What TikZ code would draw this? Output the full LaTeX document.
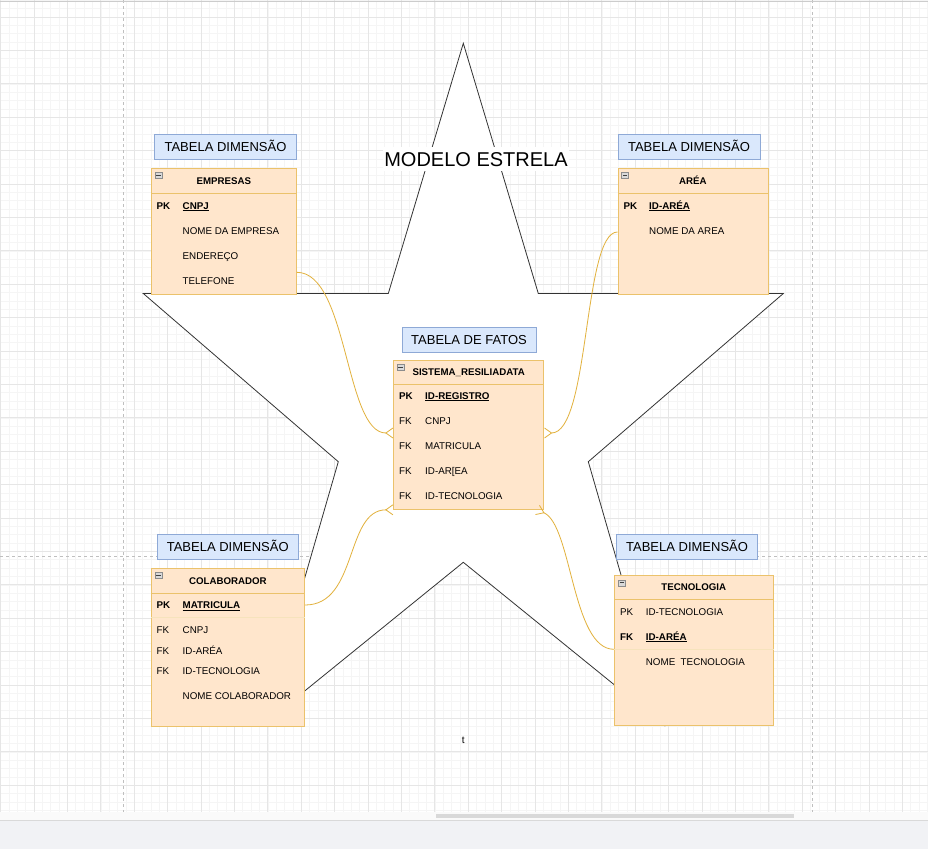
\documentclass[tikz,border=0pt]{standalone}
\usepackage{fontspec}
\setmainfont{Liberation Sans}
\usetikzlibrary{arrows.meta}
\definecolor{laranjaFundo}{HTML}{FFE6CC}
\definecolor{laranjaBorda}{HTML}{EBC26B}
\definecolor{azulFundo}{HTML}{DAE8FC}
\definecolor{azulBorda}{HTML}{8EA9D6}
\definecolor{ligacao}{HTML}{E2B13C}
\definecolor{gradeFina}{HTML}{F5F5F5}
\definecolor{gradeGrossa}{HTML}{E6E6E6}
\definecolor{rodape}{HTML}{F1F2F5}

\begin{document}
\begin{tikzpicture}[x=1pt,y=-1pt,
    rotulo/.style={draw=azulBorda, fill=azulFundo, line width=1pt, anchor=north west, inner sep=0pt, text height=9.3pt, text depth=0pt, font=\fontsize{13}{15}\selectfont},
    cabeca/.style={draw=laranjaBorda, fill=laranjaFundo, line width=0.8pt, anchor=north west, inner sep=0pt, text height=7pt, text depth=0pt, font=\bfseries\fontsize{9.7}{11}\selectfont},
    corpo/.style={draw=laranjaBorda, fill=laranjaFundo, line width=0.8pt, anchor=north west, inner sep=0pt},
    campo/.style={anchor=west, inner sep=0pt, text height=7pt, text depth=0pt, font=\fontsize{9.8}{11}\selectfont},
    chave/.style={campo, font=\bfseries\fontsize{9.8}{11}\selectfont},
    icone/.style={draw=black!45, fill=black!15, line width=0.5pt, minimum width=7pt, minimum height=6pt, inner sep=0pt,
        path picture={\draw[line width=0.9pt, black!75] ([xshift=1.3pt]path picture bounding box.west) -- ([xshift=-1.3pt]path picture bounding box.east);}},
    liga/.style={draw=ligacao, line width=0.8pt, -{Straight Barb[reversed, length=7pt, width=10pt]}},
    estrela/.style={draw=black!80, fill=white, line width=0.8pt},
    quebra/.style={draw=black!25, line width=0.7pt, dash pattern=on 3pt off 3pt}]

    \useasboundingbox (0,0) rectangle (928,849);
    \fill[white] (0,0) rectangle (928,812);

    % grade de fundo
    \foreach \i in {0,...,111} {
        \draw[gradeFina, line width=0.6pt] ({0.6+8.35*\i},0) -- ({0.6+8.35*\i},812);
    }
    \foreach \i in {0,...,97} {
        \draw[gradeFina, line width=0.6pt] (0,{0.3+8.35*\i}) -- (928,{0.3+8.35*\i});
    }
    \foreach \i in {-1,...,26} {
        \draw[gradeGrossa, line width=0.7pt] ({34+33.4*\i},0) -- ({34+33.4*\i},812);
    }
    \foreach \i in {0,...,23} {
        \draw[gradeGrossa, line width=0.7pt] (0,{17+33.4*\i}) -- (928,{17+33.4*\i});
    }
    \draw[quebra] (123,0) -- (123,812);
    \draw[quebra] (812,0) -- (812,812);
    \draw[quebra] (0,556) -- (928,556);
    \draw[black!20, line width=1pt] (0,1.5) -- (928,1.5);

    % rodape
    \fill[black!2] (0,812) rectangle (928,820);
    \fill[rodape] (0,820) rectangle (928,849);
    \draw[black!15, line width=1pt] (0,820) -- (928,820);
    \fill[black!15] (436,814) rectangle (794,817.5);

    % estrela
    \draw[estrela] (463.3,43.3) -- (538.3,293.5) -- (783.3,293.5) -- (588.3,461.7) -- (664.5,725.5)
        -- (463.3,562.3) -- (262.1,725.5) -- (338.3,461.7) -- (143.3,293.5) -- (388.3,293.5) -- cycle;
    \node[fill=white, inner xsep=1pt, inner ysep=5pt, text height=14.3pt, text depth=0pt, font=\fontsize{20}{24}\selectfont] (titulo) at (476,159) {MODELO ESTRELA};

    % EMPRESAS
    \node[rotulo, minimum width=142pt, minimum height=25pt] (rotemp) at (154,134) {TABELA DIMENSÃO};
    \node[corpo, minimum width=145pt, minimum height=101pt] (empcorpo) at (151,193) {};
    \node[cabeca, minimum width=145pt, minimum height=25pt] (empcab) at (151,168) {EMPRESAS};
    \node[icone] (empmin) at (158.5,175.5) {};
    \node[chave] (emppk) at (156.5,205.5) {PK};
    \node[chave] (empcnpj) at (182.5,205.5) {\underline{CNPJ}};
    \node[campo] (empnome) at (182.5,230.5) {NOME DA EMPRESA};
    \node[campo] (empend) at (182.5,255.5) {ENDEREÇO};
    \node[campo] (emptel) at (182.5,280.5) {TELEFONE};

    % AREA
    \node[rotulo, minimum width=142pt, minimum height=25pt] (rotarea) at (617.5,134) {TABELA DIMENSÃO};
    \node[corpo, minimum width=150pt, minimum height=101pt] (areacorpo) at (617.5,193) {};
    \node[cabeca, minimum width=150pt, minimum height=25pt] (areacab) at (617.5,168) {ARÉA};
    \node[icone] (areamin) at (625,175.5) {};
    \node[chave] (areapk) at (623.5,205.5) {PK};
    \node[chave] (areaid) at (649,205.5) {\underline{ID-ARÉA}};
    \node[campo] (areanome) at (649,230.5) {NOME DA AREA};

    % SISTEMA_RESILIADATA
    \node[rotulo, minimum width=134pt, minimum height=25pt] (rotfato) at (401.5,326.5) {TABELA DE FATOS};
    \node[corpo, minimum width=150pt, minimum height=125pt] (fatocorpo) at (393.3,384) {};
    \node[cabeca, minimum width=150pt, minimum height=24pt] (fatocab) at (393.3,360) {SISTEMA\_RESILIADATA};
    \node[icone] (fatomin) at (400.5,367.5) {};
    \node[chave] (fatopk) at (399,395.5) {PK};
    \node[chave] (fatoreg) at (425,395.5) {\underline{ID-REGISTRO}};
    \node[campo] (fatofk1) at (399,420.5) {FK};
    \node[campo] (fatocnpj) at (425,420.5) {CNPJ};
    \node[campo] (fatofk2) at (399,445.5) {FK};
    \node[campo] (fatomat) at (425,445.5) {MATRICULA};
    \node[campo] (fatofk3) at (399,470.5) {FK};
    \node[campo] (fatoarea) at (425,470.5) {ID-AR[EA};
    \node[campo] (fatofk4) at (399,495.5) {FK};
    \node[campo] (fatotec) at (425,495.5) {ID-TECNOLOGIA};

    % COLABORADOR
    \node[rotulo, minimum width=141pt, minimum height=25pt] (rotcolab) at (156.7,534.3) {TABELA DIMENSÃO};
    \node[corpo, minimum width=153.5pt, minimum height=133pt] (colabcorpo) at (150.8,592.7) {};
    \node[cabeca, minimum width=153.5pt, minimum height=24.4pt] (colabcab) at (150.8,568.3) {COLABORADOR};
    \node[icone] (colabmin) at (158.5,575.5) {};
    \draw[laranjaBorda!45, line width=0.6pt] (colabcorpo.west |- 0,617) -- (colabcorpo.east |- 0,617);
    \node[chave] (colabpk) at (156.5,605) {PK};
    \node[chave] (colabmat) at (182.5,605) {\underline{MATRICULA}};
    \node[campo] (colabfk1) at (156.5,629.7) {FK};
    \node[campo] (colabcnpj) at (182.5,629.7) {CNPJ};
    \node[campo] (colabfk2) at (156.5,650.5) {FK};
    \node[campo] (colabarea) at (182.5,650.5) {ID-ARÉA};
    \node[campo] (colabfk3) at (156.5,670.7) {FK};
    \node[campo] (colabtec) at (182.5,670.7) {ID-TECNOLOGIA};
    \node[campo] (colabnome) at (182.5,695.7) {NOME COLABORADOR};

    % TECNOLOGIA
    \node[rotulo, minimum width=141.5pt, minimum height=25pt] (rottec) at (615.8,534.3) {TABELA DIMENSÃO};
    \node[corpo, minimum width=158.7pt, minimum height=126pt] (teccorpo) at (614,599) {};
    \node[cabeca, minimum width=158.7pt, minimum height=24.5pt] (teccab) at (614,574.5) {TECNOLOGIA};
    \node[icone] (tecmin) at (621.7,582.8) {};
    \draw[laranjaBorda!45, line width=0.6pt] (teccorpo.west |- 0,649.3) -- (teccorpo.east |- 0,649.3);
    \node[campo] (tecpk) at (620,611.7) {PK};
    \node[campo] (tecid) at (645.7,611.7) {ID-TECNOLOGIA};
    \node[chave] (tecfk) at (620,636.7) {FK};
    \node[chave] (tecarea) at (645.7,636.7) {\underline{ID-ARÉA}};
    \node[campo] (tecnome) at (645.7,661.7) {NOME\ \ TECNOLOGIA};

    \node[inner sep=0pt, text height=7pt, text depth=0pt, font=\fontsize{10}{12}\selectfont] (cursor) at (463.3,739.5) {t};

    % ligacoes
    \draw[liga] (empcorpo.east |- 0,272.3) .. controls (348,272.3) and (345,433) .. (fatocorpo.west |- 0,433);
    \draw[liga] (areacorpo.west |- 0,232) .. controls (583,232) and (590,433) .. (fatocorpo.east |- 0,433);
    \draw[liga] (colabcorpo.east |- 0,605) .. controls (358,605) and (345,510) .. (fatocorpo.south west);
    \draw[liga] (teccorpo.west |- 0,649.3) .. controls (572,649.3) and (572,525) .. ([xshift=-7pt]fatocorpo.south east);
\end{tikzpicture}
\end{document}
